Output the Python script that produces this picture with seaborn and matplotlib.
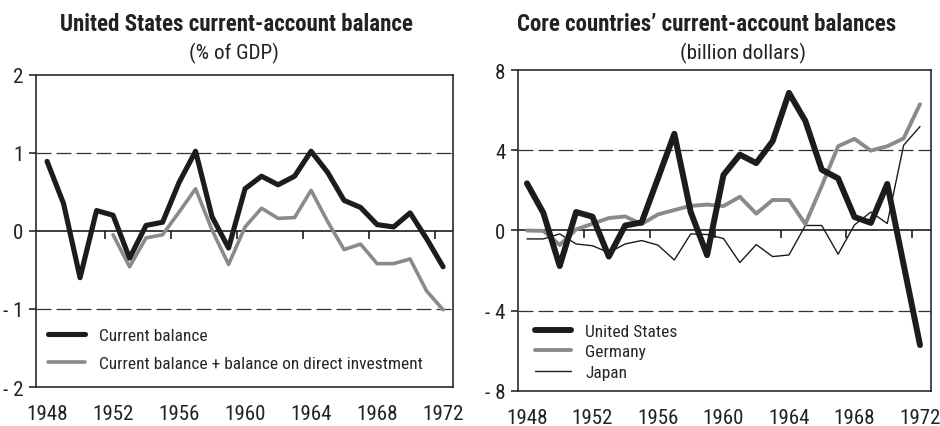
import matplotlib
matplotlib.use("Agg")
import matplotlib.pyplot as plt
import matplotlib.font_manager as fm
import seaborn as sns

# ---------------- data ----------------
years = list(range(1948, 1973))
years_di = list(range(1952, 1973))

us_current_pct = [0.89, 0.35, -0.60, 0.26, 0.20, -0.35, 0.07, 0.11, 0.62, 1.02,
                  0.18, -0.22, 0.54, 0.70, 0.59, 0.70, 1.02, 0.75, 0.39, 0.30,
                  0.08, 0.05, 0.23, -0.10, -0.46]
us_current_plus_di_pct = [-0.05, -0.46, -0.09, -0.05, 0.24, 0.54, 0.01, -0.43, 0.05,
                          0.29, 0.16, 0.17, 0.52, 0.12, -0.24, -0.17, -0.42, -0.42,
                          -0.36, -0.77, -1.01]

us_bn = [2.35, 0.88, -1.77, 0.92, 0.69, -1.30, 0.25, 0.40, 2.60, 4.82,
         0.92, -1.23, 2.77, 3.78, 3.36, 4.45, 6.86, 5.46, 3.03, 2.60,
         0.67, 0.38, 2.32, -1.70, -5.71]
germany_bn = [0.00, -0.02, -0.72, 0.05, 0.34, 0.62, 0.70, 0.32, 0.80, 1.02,
              1.23, 1.29, 1.22, 1.68, 0.84, 1.52, 1.52, 0.32, 2.22, 4.20,
              4.57, 3.98, 4.20, 4.59, 6.30]
japan_bn = [-0.42, -0.42, -0.17, -0.67, -0.76, -1.10, -0.67, -0.50, -0.73, -1.47,
            -0.17, -0.20, -0.40, -1.60, -0.70, -1.30, -1.22, 0.25, 0.25, -1.18,
            0.28, 0.92, 0.35, 4.25, 5.18]

x_tick_years = [1948, 1952, 1956, 1960, 1964, 1968, 1972]
zero_line_ticks = [1951.5, 1955.5, 1959.5, 1963.5, 1967.5, 1971.5]

left_yticks = [-2, -1, 0, 1, 2]
left_ylabels = ["- 2", "- 1", "0", "1", "2"]
right_yticks = [-8, -4, 0, 4, 8]
right_ylabels = ["- 8", "- 4", "0", "4", "8"]

left_title = "United States current-account balance"
left_sub = "(% of GDP)"
right_title = "Core countries\u2019 current-account balances"
right_sub = "(billion dollars)"

# ---------------- font choice (prefer a narrow face) ----------------
sns.set_style("white")


def _is_narrow(f):
    n = f.name.lower()
    st = f.stretch
    if "narrow" in n or "condensed" in n:
        return True
    if isinstance(st, str) and "condensed" in st:
        return True
    if isinstance(st, (int, float)) and st < 500:
        return True
    return False


chosen_family, chosen_stretch = None, "normal"
narrow = [f for f in fm.fontManager.ttflist if _is_narrow(f)]
for pref in ["Liberation Sans Narrow", "Roboto Condensed", "DejaVu Sans",
             "Noto Sans", "Open Sans"]:
    hits = [f for f in narrow if f.name == pref]
    if hits:
        chosen_family, chosen_stretch = pref, hits[0].stretch
        break
if chosen_family is None and narrow:
    chosen_family, chosen_stretch = narrow[0].name, narrow[0].stretch
if chosen_family is None:
    chosen_family = "Lato"

plt.rcParams["font.family"] = [chosen_family, "DejaVu Sans"]
plt.rcParams["font.stretch"] = chosen_stretch

BLACK = "#1c1c1c"
GRAY = "#8a8a8a"
SPINE = "#2a2a2a"
TXT = "#222222"

fig = plt.figure(figsize=(9.4, 4.27), dpi=100)
renderer = fig.canvas.get_renderer()


def fit_size(text, target_px, weight="normal", base=20.0):
    t = fig.text(0, 0, text, fontsize=base, fontweight=weight)
    w = t.get_window_extent(renderer).width
    t.remove()
    return base * target_px / w


tick_fs = min(fit_size("1948", 37) * 1.12, 16)
legend_fs = min(fit_size("Current balance", 103) * 1.05, 14)
title_fs_l = fit_size(left_title, 352, "bold")
title_fs_r = fit_size(right_title, 379, "bold")
sub_fs = min(fit_size(left_sub, 88), fit_size(right_sub, 120)) * 1.05

ax1 = fig.add_axes([0.0383, 0.0913, 0.4436, 0.7314])
ax2 = fig.add_axes([0.5510, 0.0820, 0.4394, 0.7517])


def style_axes(ax, ylim, yticks, ylabels, xlim, dash_vals):
    ax.set_xlim(*xlim)
    ax.set_ylim(*ylim)
    for v in dash_vals:
        ax.axhline(v, color="#333333", lw=0.9, ls=(0, (12, 4)), zorder=1)
    ax.axhline(0, color=BLACK, lw=1.2, zorder=1)
    ax.plot(zero_line_ticks, [0] * len(zero_line_ticks), ls="none", marker=3,
            markersize=6, mew=1.2, color=BLACK, zorder=1)
    ax.set_xticks(x_tick_years)
    ax.set_xticklabels([str(y) for y in x_tick_years])
    ax.set_yticks(yticks)
    ax.set_yticklabels(ylabels)
    ax.tick_params(axis="x", length=0, pad=12, labelsize=tick_fs, colors=TXT)
    ax.tick_params(axis="y", left=True, length=5, width=1.2, direction="out",
                   pad=4, labelsize=tick_fs, color=SPINE, labelcolor=TXT)
    for s in ax.spines.values():
        s.set_visible(True)
        s.set_color(SPINE)
        s.set_linewidth(1.2)
    ax.grid(False)


# ---------------- left panel ----------------
style_axes(ax1, (-2, 2), left_yticks, left_ylabels, (1947.33, 1972.6), [1, -1])
sns.lineplot(x=years, y=us_current_pct, ax=ax1, color=BLACK, lw=3.7,
             label="Current balance", zorder=3)
sns.lineplot(x=years_di, y=us_current_plus_di_pct, ax=ax1, color=GRAY, lw=2.6,
             label="Current balance + balance on direct investment", zorder=2)
ax1.set_xlabel("")
ax1.set_ylabel("")
ax1.legend(loc="lower left", bbox_to_anchor=(0.029, 0.05), frameon=False,
           fontsize=legend_fs, handlelength=2.1, handletextpad=0.85,
           labelspacing=0.75, borderpad=0, borderaxespad=0)

# ---------------- right panel ----------------
style_axes(ax2, (-8, 8), right_yticks, right_ylabels, (1947.45, 1972.67), [4, -4])
sns.lineplot(x=years, y=us_bn, ax=ax2, color=BLACK, lw=4.3,
             label="United States", zorder=4)
sns.lineplot(x=years, y=germany_bn, ax=ax2, color=GRAY, lw=2.8,
             label="Germany", zorder=3)
sns.lineplot(x=years, y=japan_bn, ax=ax2, color=BLACK, lw=1.0,
             label="Japan", zorder=2)
ax2.set_xlabel("")
ax2.set_ylabel("")
ax2.legend(loc="lower left", bbox_to_anchor=(0.041, 0.035), frameon=False,
           fontsize=legend_fs, handlelength=2.1, handletextpad=0.8,
           labelspacing=0.3, borderpad=0, borderaxespad=0)

# ---------------- titles ----------------
fig.text(236 / 940, 1 - 31 / 427, left_title, ha="center", va="baseline",
         fontsize=title_fs_l, fontweight="bold", color=TXT)
fig.text(234 / 940, 1 - 59 / 427, left_sub, ha="center", va="baseline",
         fontsize=sub_fs, color=TXT)
fig.text(707 / 940, 1 - 31 / 427, right_title, ha="center", va="baseline",
         fontsize=title_fs_r, fontweight="bold", color=TXT)
fig.text(743 / 940, 1 - 59 / 427, right_sub, ha="center", va="baseline",
         fontsize=sub_fs, color=TXT)

fig.savefig("out.png", dpi=100)
